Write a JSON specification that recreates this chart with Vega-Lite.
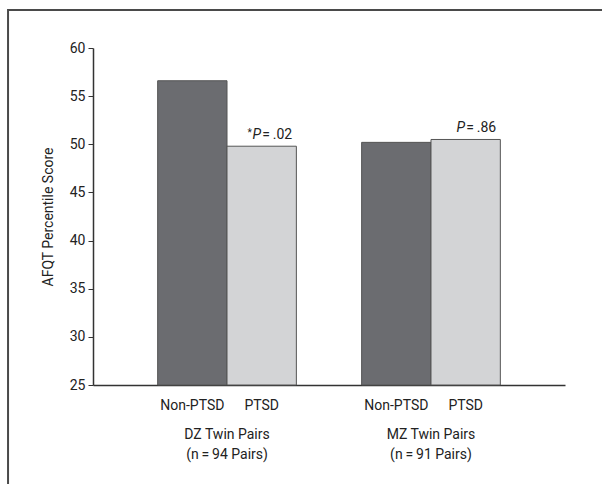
{
  "$schema": "https://vega.github.io/schema/vega-lite/v6.json",
  "width": 472,
  "height": 337,
  "autosize": {"type": "none"},
  "padding": {"left": 93, "top": 48, "right": 37, "bottom": 99},
  "background": "white",
  "config": {
    "view": {"stroke": null},
    "font": "Roboto",
    "text": {"font": "Roboto", "fontSize": 14, "color": "#222"}
  },
  "layer": [
    {
      "data": {
        "values": [
          {"group": "DZ Twin Pairs\n(n\u2009=\u200994 Pairs)", "cond": "Non-PTSD", "score": 56.6, "star": "", "pval": ""},
          {"group": "DZ Twin Pairs\n(n\u2009=\u200994 Pairs)", "cond": "PTSD", "score": 49.8, "star": "*", "pval": "=\u2009.02"},
          {"group": "MZ Twin Pairs\n(n\u2009=\u200991 Pairs)", "cond": "Non-PTSD", "score": 50.2, "star": "", "pval": ""},
          {"group": "MZ Twin Pairs\n(n\u2009=\u200991 Pairs)", "cond": "PTSD", "score": 50.5, "star": "", "pval": "=\u2009.86"}
        ]
      },
      "encoding": {
        "x": {
          "field": "group",
          "type": "nominal",
          "sort": null,
          "scale": {"paddingInner": 0.32, "paddingOuter": 0.317},
          "axis": {
            "title": null,
            "labelAngle": 0,
            "ticks": false,
            "tickSize": 0,
            "labelPadding": 42,
            "labelExpr": "split(datum.label, '\\n')",
            "labelLineHeight": 20,
            "labelFont": "Roboto",
            "labelFontSize": 14,
            "labelColor": "#222",
            "domainColor": "#333",
            "domainWidth": 1.5
          }
        },
        "xOffset": {"field": "cond", "type": "nominal", "sort": ["Non-PTSD", "PTSD"], "scale": {"paddingInner": 0, "paddingOuter": 0}},
        "y": {
          "field": "score",
          "type": "quantitative",
          "scale": {"domain": [25, 60], "zero": false, "nice": false},
          "axis": {
            "title": "AFQT Percentile Score",
            "values": [25, 30, 35, 40, 45, 50, 55, 60],
            "grid": false,
            "tickSize": 5,
            "tickColor": "#333",
            "domainColor": "#333",
            "domainWidth": 1.5,
            "labelPadding": 3,
            "labelFont": "Roboto",
            "labelFontSize": 14,
            "labelColor": "#222",
            "titleFont": "Roboto",
            "titleFontSize": 14,
            "titleFontWeight": "normal",
            "titleColor": "#222",
            "titlePadding": 14
          }
        }
      },
      "layer": [
        {
          "mark": {"type": "bar", "stroke": "#555", "strokeWidth": 1},
          "encoding": {
            "y2": {"datum": 25},
            "color": {
              "field": "cond",
              "type": "nominal",
              "scale": {"domain": ["Non-PTSD", "PTSD"], "range": ["#6b6c70", "#d3d4d6"]},
              "legend": null
            }
          }
        },
        {
          "mark": {"type": "text", "baseline": "middle", "align": "center", "dy": 21},
          "encoding": {
            "y": {"datum": 25},
            "text": {"field": "cond"}
          }
        },
        {
          "transform": [{"filter": "datum.pval != ''"}],
          "mark": {"type": "text", "baseline": "bottom", "align": "center", "dx": -5, "dy": -4, "fontStyle": "italic"},
          "encoding": {"text": {"value": "P"}}
        },
        {
          "transform": [{"filter": "datum.pval != ''"}],
          "mark": {"type": "text", "baseline": "bottom", "align": "left", "dx": 0.5, "dy": -4},
          "encoding": {"text": {"field": "pval"}}
        },
        {
          "transform": [{"filter": "datum.star != ''"}],
          "mark": {"type": "text", "baseline": "bottom", "align": "right", "dx": -10, "dy": -8, "fontSize": 10},
          "encoding": {"text": {"field": "star"}}
        }
      ]
    },
    {
      "data": {"values": [{"frame": 1}]},
      "mark": {"type": "rect", "fillOpacity": 0, "stroke": "#4a4a4a", "strokeWidth": 2},
      "encoding": {
        "x": {"datum": -0.18, "type": "quantitative", "scale": {"domain": [0, 1]}, "axis": null},
        "x2": {"datum": 1.3},
        "y": {"datum": 1.113, "type": "quantitative", "scale": {"domain": [0, 1]}, "axis": null},
        "y2": {"datum": -0.6}
      }
    }
  ],
  "resolve": {"scale": {"x": "independent", "y": "independent"}}
}
